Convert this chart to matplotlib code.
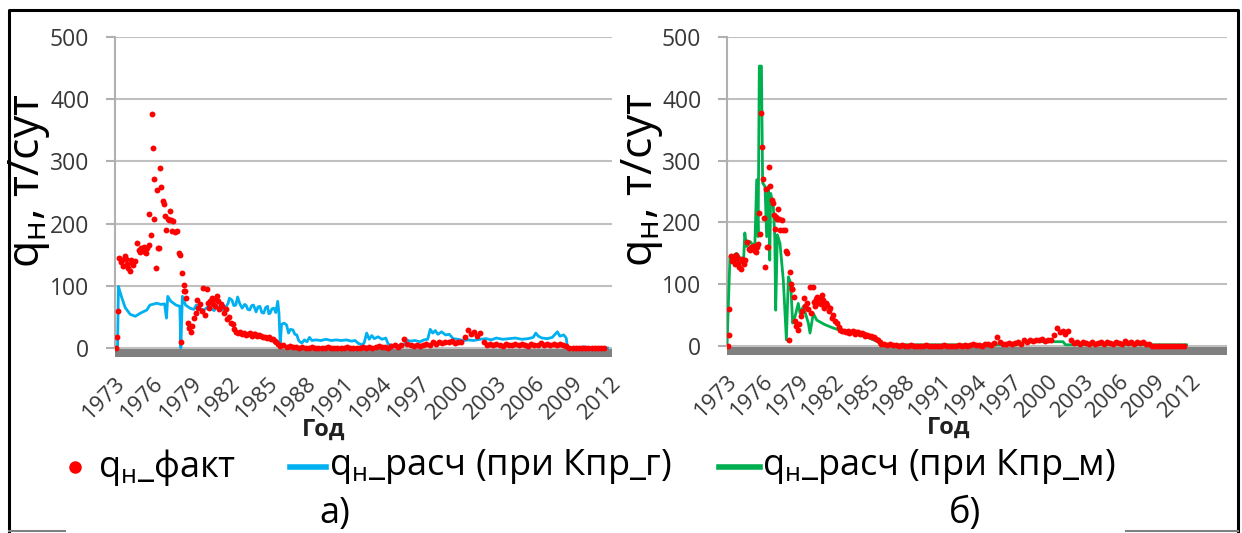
import numpy as np
import matplotlib.pyplot as plt
from matplotlib.lines import Line2D

plt.rcParams['font.family'] = ['Open Sans', 'DejaVu Sans']
plt.rcParams['mathtext.fontset'] = 'custom'
plt.rcParams['mathtext.rm'] = 'Open Sans'

# q_н факт: early period (irregular dates)
fact_years = [1973.1, 1973.15, 1973.2,
              1973.35, 1973.45, 1973.55, 1973.65, 1973.75, 1973.85, 1973.95, 1974.05, 1974.15, 1974.25, 1974.35, 1974.45, 1974.55,
              1974.7, 1974.85, 1974.95, 1975.05, 1975.15, 1975.25, 1975.35, 1975.45, 1975.55, 1975.65, 1975.7, 1975.8,
              1975.9, 1975.97, 1976.05, 1976.1, 1976.2, 1976.3, 1976.35, 1976.45, 1976.55, 1976.65, 1976.75, 1976.85,
              1976.95, 1977.05, 1977.15, 1977.25, 1977.3, 1977.4, 1977.5, 1977.6, 1977.7, 1977.85, 1978.0, 1978.08,
              1978.2, 1978.3, 1978.4, 1978.45, 1978.5, 1978.6, 1978.75, 1978.85, 1978.95, 1979.05, 1979.2, 1979.35,
              1979.45, 1979.55, 1979.7, 1979.85, 1979.95, 1980.1, 1980.2, 1980.3, 1980.4, 1980.5, 1980.6, 1980.7,
              1980.8, 1980.9, 1981.0, 1981.1, 1981.15, 1981.3, 1981.4, 1981.55, 1981.7, 1981.8, 1981.95, 1982.1,
              1982.25, 1982.4, 1982.55, 1982.7, 1982.85, 1983.0, 1983.15, 1983.3, 1983.45, 1983.6, 1983.75, 1983.9,
              1984.05, 1984.2, 1984.35, 1984.5, 1984.65, 1984.8, 1984.95, 1985.1, 1985.25, 1985.4, 1985.55, 1985.7,
              1985.85, 1986.0]
fact_vals = [0, 18, 60,
             145, 138, 141, 132, 148, 143, 135, 128, 124, 141, 137, 133, 140,
             169, 157, 155, 160, 158, 162, 154, 152, 160, 165, 216, 182,
             377, 322, 271, 207, 128, 254, 161, 160, 290, 259, 236, 231,
             212, 190, 208, 205, 221, 206, 188, 204, 187, 188, 153, 150,
             9, 120, 101, 92, 92, 80, 40, 32, 26, 35, 48, 56,
             77, 64, 70, 60, 96, 53, 95, 72, 65, 76, 80, 70,
             78, 68, 83, 75, 62, 70, 67, 57, 62, 46, 50, 40,
             38, 30, 26, 24, 25, 22, 24, 21, 23, 24, 20, 22,
             23, 19, 21, 20, 17, 18, 16, 17, 15, 14, 12, 10,
             6, 3]

# q_н факт: quarterly from 1986.25 to 2011.75
fact_tail = [4, 2, 3, 1, 2, 0, 1,
             0, 0, 1, 0,
             0, 0, 0, 1,
             0, 0, 0, 0,
             0, 1, 0, 0,
             0, 0, 1, 0,
             2, 0, 1, 3,
             1, 2, 0, 3,
             4, 2, 5, 14,
             6, 4, 3, 5,
             3, 5, 6, 4,
             9, 7, 10, 8,
             10, 9, 11, 8,
             9, 10, 18, 29,
             22, 25, 20, 24,
             10, 5, 6, 4,
             7, 5, 3, 6,
             4, 5, 7, 4,
             6, 5, 3, 6,
             5, 4, 8, 5,
             6, 4, 7, 5,
             6, 4, 3,
             0, 0, 0, 0, 0, 0, 0, 0, 0, 0, 0, 0]
fact_tail_years = 1986.25 + 0.25 * np.arange(len(fact_tail))

# q_н расч (при Кпр_г)
g_years = [1973.0, 1973.2, 1973.27, 1973.5, 1973.8, 1974.2, 1974.6, 1975.0, 1975.5, 1975.75, 1976.3, 1976.6,
           1976.9, 1977.05, 1977.15, 1977.4, 1977.8, 1978.1, 1978.18, 1978.3, 1978.55, 1978.9, 1979.2, 1979.4,
           1979.7, 1980.0, 1980.3, 1980.5, 1980.8, 1981.0, 1981.3, 1981.6, 1981.9, 1982.0, 1982.2, 1982.35,
           1982.5, 1982.65, 1982.8, 1983.0, 1983.2, 1983.3, 1983.45, 1983.6, 1983.75, 1983.9, 1984.1, 1984.25,
           1984.4, 1984.55, 1984.7, 1984.85, 1985.0, 1985.1, 1985.2, 1985.35, 1985.5, 1985.65, 1985.8, 1985.9,
           1986.0, 1986.1, 1986.3, 1986.5, 1986.65, 1986.8, 1987.0, 1987.15, 1987.3, 1987.45, 1987.55, 1987.7,
           1987.9, 1988.1, 1988.3, 1988.5, 1988.8, 1989.2, 1989.6, 1990.0, 1990.4, 1990.8, 1991.2, 1991.6,
           1991.9, 1992.1, 1992.4, 1992.6, 1992.8, 1993.0, 1993.2, 1993.4, 1993.7, 1994.0, 1994.3, 1994.5,
           1994.8, 1995.1, 1995.4, 1995.7, 1995.95, 1996.2, 1996.6, 1997.0, 1997.3, 1997.6, 1997.8, 1998.0,
           1998.2, 1998.4, 1998.7, 1999.0, 1999.3, 1999.6, 2000.0, 2000.4, 2000.8, 2001.2, 2001.7, 2002.2,
           2002.6, 2003.0, 2003.5, 2004.0, 2004.5, 2005.0, 2005.5, 2005.9, 2006.1, 2006.3, 2006.6, 2007.0,
           2007.4, 2007.8, 2008.0, 2008.3, 2008.5, 2008.6, 2009.5, 2009.9, 2010.2, 2011.75]
g_vals = [0, 0, 99, 83, 65, 54, 51, 56, 61, 69, 72, 70,
          71, 48, 83, 75, 69, 67, 0, 83, 69, 64, 62, 69,
          63, 61, 66, 64, 60, 67, 63, 61, 72, 80, 77, 68,
          69, 82, 72, 64, 70, 69, 62, 61, 68, 69, 58, 66,
          67, 57, 56, 65, 67, 55, 56, 63, 64, 57, 75, 56,
          5, 38, 40, 37, 24, 30, 29, 22, 21, 12, 10, 8,
          13, 10, 17, 12, 13, 12, 14, 12, 13, 12, 13, 11,
          12, 8, 5, 8, 24, 14, 20, 15, 18, 14, 16, 6,
          4, 5, 3, 4, 13, 11, 12, 10, 13, 14, 30, 24,
          28, 22, 26, 21, 22, 15, 14, 12, 13, 12, 14, 15,
          13, 16, 14, 15, 16, 14, 15, 17, 24, 19, 16, 15,
          17, 26, 19, 21, 16, 0, 0, 2, 0, 0]

# q_н расч (при Кпр_м)
m_years = [1973.0, 1973.25, 1973.5, 1973.8, 1974.1, 1974.25, 1974.4, 1974.5, 1974.65, 1974.95, 1975.2, 1975.35,
           1975.5, 1975.62, 1975.72, 1975.9, 1976.0, 1976.2, 1976.34, 1976.48, 1976.6, 1976.68, 1976.9, 1977.02,
           1977.1, 1977.24, 1977.46, 1977.74, 1978.0, 1978.17, 1978.36, 1978.53, 1978.73, 1979.0, 1979.15, 1979.43,
           1979.85, 1979.99, 1980.27, 1980.55, 1980.83, 1981.2, 1981.96, 1982.8, 1983.64, 1984.2, 1984.77, 1985.2,
           1985.6, 1986.0, 1987.0, 1990.0, 1993.0, 1996.0, 1997.8, 1998.0, 2001.3, 2001.5, 2011.7]
m_vals = [0, 145, 146, 150, 143, 134, 140, 183, 161, 169, 163, 166,
          269, 177, 453, 453, 264, 258, 177, 258, 139, 247, 226, 177,
          58, 180, 166, 107, 10, 112, 102, 37, 48, 69, 53, 64,
          37, 21, 53, 42, 39, 35, 29, 24, 21, 17, 15, 11,
          8, 3, 2, 2, 2, 2, 3, 7, 7, 2, 2]

year_ticks = list(range(1973, 2013, 3))
grid_c = '#c0c0c0'
txt_c = '#383838'
red, blue, green = '#ff0000', '#00b0f0', '#00b050'

fig = plt.figure(figsize=(12.42, 5.33), dpi=100)
ax_a = fig.add_axes([115/1242, 1-357/533, 497/1242, 320/533])
ax_b = fig.add_axes([727/1242, 1-355/533, 500/1242, 318/533])

panels = [(ax_a, g_years, g_vals, blue, (1973, 2012.1), 0.42, -0.126),
          (ax_b, m_years, m_vals, green, (1973, 2015.1), 0.444, -0.124)]
for ax, cy, cv, col, xl, lab_x, ylab_x in panels:
    ax.set_xlim(*xl)
    ax.set_ylim(-14.5, 500)
    ax.axhspan(-14.5, 0, color='#808080', lw=0, zorder=1)
    ax.set_yticks([0, 100, 200, 300, 400, 500])
    ax.grid(axis='y', color=grid_c, lw=1.5, zorder=0)
    for s in ['top', 'right', 'bottom']:
        ax.spines[s].set_visible(False)
    ax.spines['left'].set_color('#b0b0b0')
    ax.spines['left'].set_linewidth(1.5)
    ax.spines['left'].set_bounds(0, 500)
    ax.tick_params(axis='y', length=6.5, width=1.5, color='#b0b0b0', pad=12,
                   labelsize=16.5, labelcolor=txt_c)
    ax.set_xticks(year_ticks)
    ax.set_xticklabels([str(y) for y in year_ticks], rotation=45, ha='right',
                       rotation_mode='anchor')
    ax.tick_params(axis='x', length=0, pad=11, labelsize=16, labelcolor=txt_c)
    ax.plot(cy, cv, color=col, lw=2.0, zorder=3)
    ax.scatter(fact_years, fact_vals, s=18, color=red, lw=0, zorder=4)
    ax.scatter(fact_tail_years, fact_tail, s=18, color=red, lw=0, zorder=4)
    ax.text(lab_x, -0.228, 'Год', transform=ax.transAxes, ha='center', va='center',
            fontsize=17, fontweight='bold', color='#202020')
    ax.set_ylabel('q$_{\\mathregular{н}}$, т/сут', fontsize=32, color='black')
    ax.yaxis.set_label_coords(ylab_x, 0.55)

# legend row, placed item by item
ly = 1 - 467/533
leg_fs = 26
fig.add_artist(Line2D([75/1242], [ly], color=red, marker='o', ms=8, ls='none'))
fig.text(98/1242, ly, 'q$_{\\mathregular{н}}$_факт', ha='left', va='center', fontsize=leg_fs)
fig.add_artist(Line2D([290/1242, 326/1242], [ly, ly], color=blue, lw=4))
fig.text(329/1242, ly, 'q$_{\\mathregular{н}}$_расч (при Кпр_г)', ha='left', va='center', fontsize=leg_fs)
fig.add_artist(Line2D([719/1242, 760/1242], [ly, ly], color=green, lw=4))
fig.text(762/1242, ly, 'q$_{\\mathregular{н}}$_расч (при Кпр_м)', ha='left', va='center', fontsize=leg_fs)

fig.text(335/1242, 1-514/533, 'а)', ha='center', va='center', fontsize=leg_fs)
fig.text(965/1242, 1-514/533, 'б)', ha='center', va='center', fontsize=leg_fs)

# outer frame
fig.add_artist(Line2D([9/1242, 9/1242, 1238/1242, 1238/1242], [1-532/533, 1-10/533, 1-10/533, 1-532/533],
                      color='black', lw=2.2))
fig.add_artist(Line2D([9/1242, 65/1242], [1-531/533, 1-531/533], color='#808080', lw=1.5))
fig.add_artist(Line2D([1126/1242, 1238/1242], [1-531/533, 1-531/533], color='#808080', lw=1.5))

fig.savefig('out.png', dpi=100)
